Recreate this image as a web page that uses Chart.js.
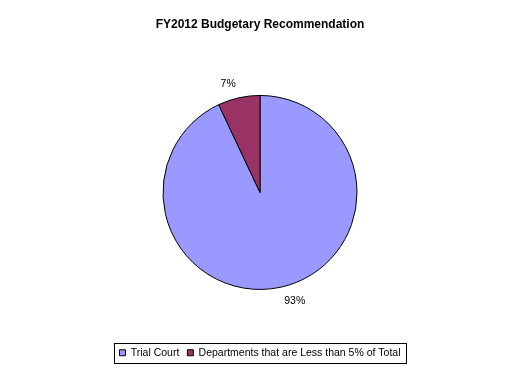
<!DOCTYPE html>
<html lang="en">

<head>
    <meta charset="UTF-8">
    <title>FY2012 Budgetary Recommendation</title>
    <script src="https://cdn.jsdelivr.net/npm/chart.js"></script>
    <style>
        body {
            margin: 0;
            background: #fff;
        }
        canvas {
            display: block;
        }
    </style>
</head>

<body>
    <canvas id="myChart" width="520" height="373"></canvas>

    <script>
        const categories = ['Trial Court', 'Departments that are Less than 5% of Total'];
        const shares = [93, 7];
        const sliceColors = ['#9999FF', '#993366'];
        const chartTitle = 'FY2012 Budgetary Recommendation';
        const FONT = "'Liberation Sans', Arial, sans-serif";

        // percent labels just outside the slices
        const sliceLabels = {
            id: 'sliceLabels',
            afterDatasetsDraw(chart) {
                const ctx = chart.ctx;
                const arcs = chart.getDatasetMeta(0).data;
                ctx.save();
                ctx.font = '10.5px ' + FONT;
                ctx.fillStyle = '#000';
                ctx.textBaseline = 'middle';
                arcs.forEach((arc, i) => {
                    const p = arc.getProps(['x', 'y', 'startAngle', 'endAngle', 'outerRadius'], true);
                    const mid = (p.startAngle + p.endAngle) / 2;
                    const r = p.outerRadius + 14;
                    const x = p.x + Math.cos(mid) * r;
                    const y = p.y + Math.sin(mid) * r;
                    ctx.textAlign = Math.cos(mid) >= 0 ? 'left' : 'right';
                    ctx.fillText(shares[i] + '%', x, y);
                });
                ctx.restore();
            }
        };

        // frame round the legend
        const legendFrame = {
            id: 'legendFrame',
            afterDraw(chart) {
                const boxes = chart.legend.legendHitBoxes;
                if (!boxes || !boxes.length) return;
                const left = Math.min(...boxes.map(b => b.left));
                const right = Math.max(...boxes.map(b => b.left + b.width));
                const top = Math.min(...boxes.map(b => b.top));
                const bottom = Math.max(...boxes.map(b => b.top + b.height));
                const ctx = chart.ctx;
                ctx.save();
                ctx.strokeStyle = '#000';
                ctx.lineWidth = 1;
                ctx.strokeRect(Math.round(left - 5) + 0.5, Math.round(top - 5) + 0.5,
                    Math.round(right - left + 11), Math.round(bottom - top + 9));
                ctx.restore();
            }
        };

        const myChart = new Chart(document.getElementById('myChart'), {
            type: 'pie',
            data: {
                labels: categories,
                datasets: [{
                    data: shares,
                    backgroundColor: sliceColors,
                    borderColor: '#000',
                    borderWidth: 1,
                    radius: 97
                }]
            },
            options: {
                responsive: false,
                animation: false,
                events: [],
                layout: { padding: { top: 0, bottom: 5, left: 0, right: 0 } },
                plugins: {
                    title: {
                        display: true,
                        text: chartTitle,
                        color: '#000',
                        font: { family: FONT, size: 12, weight: 'bold' },
                        padding: { top: 17, bottom: 14 }
                    },
                    legend: {
                        position: 'bottom',
                        labels: {
                            color: '#000',
                            font: { family: FONT, size: 10.5 },
                            boxWidth: 6,
                            boxHeight: 6,
                            padding: 8
                        }
                    },
                    tooltip: { enabled: false }
                }
            },
            plugins: [sliceLabels, legendFrame]
        });
    </script>
</body>

</html>
